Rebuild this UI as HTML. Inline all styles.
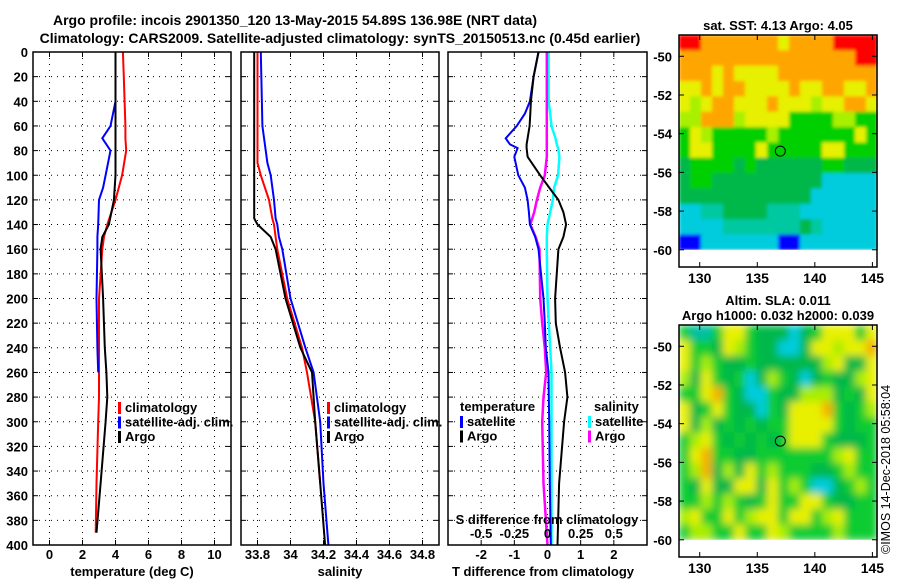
<!DOCTYPE html>
<html><head><meta charset="utf-8"><style>
body{margin:0;background:#fff}
svg{display:block;font-family:"Liberation Sans",sans-serif;font-weight:bold}
text{font-size:13px}
</style></head><body>
<svg id="c" width="900" height="580" viewBox="0 0 900 580">
<defs>
<filter id="blurA" x="0" y="0" width="1" height="1"><feGaussianBlur stdDeviation="4" edgeMode="duplicate"/></filter>
<filter id="blurB" x="0" y="0" width="1" height="1"><feGaussianBlur stdDeviation="1.5" edgeMode="duplicate"/></filter>
</defs>
<g id="g"></g>
</svg>
<script>
// ---------- data ----------
const depthT = [0,20,40,60,70,80,100,110,120,140,150,160,200,240,260,280,300,350,390];
const tempArgo = [4.0,4.0,4.0,4.0,4.0,4.0,4.0,3.95,3.9,3.6,3.2,3.1,3.25,3.35,3.45,3.5,3.4,3.1,2.85];
const tempClim = [4.45,4.5,4.55,4.6,4.6,4.65,4.4,4.2,4.0,3.5,3.3,3.2,3.0,3.0,3.0,3.0,2.95,2.85,2.8];
const tempSat = [4.0,4.0,4.0,3.7,3.2,3.7,3.4,3.25,3.0,2.95,2.9,2.9,2.85,2.9,2.95,2.95,2.95,2.9,2.85];
const depthS = [0,60,90,100,120,135,140,150,160,200,240,260,300,350,400];
const salArgo = [33.78,33.78,33.78,33.78,33.78,33.78,33.8,33.88,33.91,33.97,34.06,34.13,34.15,34.18,34.21];
const salClim = [33.8,33.8,33.8,33.82,33.87,33.89,33.9,33.91,33.92,33.98,34.07,34.1,34.15,34.18,34.2];
const salSat = [33.82,33.83,33.86,33.88,33.9,33.91,33.92,33.93,33.95,34.0,34.09,34.14,34.18,34.2,34.23];
const depthD = [0,20,40,50,60,70,75,78,85,100,110,120,130,140,150,160,200,220,240,260,280,300,350,400];
const dTsat = [-0.27,-0.42,-0.53,-0.68,-0.93,-1.26,-1.13,-0.9,-1.0,-0.88,-0.68,-0.6,-0.56,-0.53,-0.37,-0.27,-0.12,-0.08,-0.05,0.03,0.04,0.05,0.07,0.1];
const dTargo = [-0.27,-0.42,-0.5,-0.52,-0.54,-0.6,-0.63,-0.63,-0.6,-0.22,0.05,0.33,0.48,0.56,0.48,0.33,0.23,0.25,0.38,0.53,0.6,0.5,0.35,0.3];
const dSsat = [0.008,0.008,0.008,0.02,0.03,0.06,0.07,0.08,0.09,0.08,0.05,0.04,0.02,0.0,-0.005,-0.005,0.0,0.01,0.02,0.03,0.03,0.03,0.03,0.03];
const dSargo = [-0.005,-0.005,-0.005,-0.005,-0.005,-0.005,-0.005,-0.005,-0.005,-0.02,-0.055,-0.08,-0.1,-0.13,-0.09,-0.06,-0.055,-0.04,-0.02,-0.01,-0.03,-0.04,-0.03,0.0];
const depthTicks = [0,20,40,60,80,100,120,140,160,180,200,220,240,260,280,300,320,340,360,380,400];
const tTicks = [0,2,4,6,8,10];
const sTicks = [33.8,34,34.2,34.4,34.6,34.8];
const sTickLabels = ["33.8","34","34.2","34.4","34.6","34.8"];
const dTTicks = [-2,-1,0,1,2];
const dSTicks = [-0.5,-0.25,0,0.25,0.5];
const dSTickLabels = ["-0.5","-0.25","0","0.25","0.5"];
const latTicks = [-50,-52,-54,-56,-58,-60];
const lonTicks = [130,135,140,145];
const argoLon = 137.0, argoLat = -54.9;
const sstGrid = [
"rroooooooyoooorrrr","oooooooooooooooorr","oooyoyyyyooooooooo","yyoyooyyyyoyyooyyo",
"ylyooyyyoyyylyyooy","llooolyyyyggggllgg","gylggggglgggggggyg","gyyggggygggggyyggg",
"dggggdgddddddggddd","dggddddddddddccccc","ddddddddddddcccccc","ccttddddtttccccccc",
"cccctttttttdtccccc","bbcccccccbbccccccc"];
const slaGrid = [
"gttgyygdddcdgyyygy","yggdylgddccdyylyyo","yglgddgddddddlyddyo","ldygdgcdlgdcdgddly",
"ggyogdccgddllldgdy","ydgygddcgdyyyogdgl","ydldgdgdggyyyygdgg","glygdgdgdgyyygdddg",
"gyoggddggggggglygg","glodldyglgggddglgg","gdyddyydyglgccdglg","gglglgdgyggyygddgg",
"lyggyglyygyyglyggg","gllggyggylgggglggg"];
// ---------- helpers ----------
const NS="http://www.w3.org/2000/svg";
const root=document.getElementById('g');
function el(tag,attrs,parent){const e=document.createElementNS(NS,tag);for(const k in attrs)e.setAttribute(k,attrs[k]);(parent||root).appendChild(e);return e;}
function txt(x,y,s,anchor,parent,extra){const t=el('text',Object.assign({x:x,y:y,'text-anchor':anchor||'middle'},extra||{}),parent);t.textContent=s;return t;}
const PT=52, PB=545;
const yD=d=>PT+(d/400)*(PB-PT);
function panel(x0,x1,xmin,xmax,name){
  const xs=v=>x0+(v-xmin)/(xmax-xmin)*(x1-x0);
  const g=el('g',{});
  
  
  return {x0,x1,xs,g};
}
function frameGrid(p,xt){
  depthTicks.forEach(d=>{const y=yD(d);
    if(d>0&&d<400) el('line',{x1:p.x0,x2:p.x1,y1:y,y2:y,stroke:'#000','stroke-dasharray':'1,5','stroke-width':1},p.g);
    el('line',{x1:p.x0,x2:p.x0+5,y1:y,y2:y,stroke:'#000'},p.g);
    el('line',{x1:p.x1-5,x2:p.x1,y1:y,y2:y,stroke:'#000'},p.g);});
  xt.forEach(v=>{const x=p.xs(v);
    el('line',{x1:x,x2:x,y1:PT,y2:PB,stroke:'#000','stroke-dasharray':'1,5','stroke-width':1},p.g);
    el('line',{x1:x,x2:x,y1:PB-5,y2:PB,stroke:'#000'},p.g);
    el('line',{x1:x,x2:x,y1:PT,y2:PT+5,stroke:'#000'},p.g);});
}
function line(p,ds,vals,col,w,name){
  const pts=vals.map((v,i)=>p.xs(v).toFixed(1)+','+yD(ds[i]).toFixed(1)).join(' ');
  const l=el('polyline',{points:pts,fill:'none',stroke:col,'stroke-width':w},p.g);
  
  
}
function box(p){el('rect',{x:p.x0,y:PT,width:p.x1-p.x0,height:PB-PT,fill:'none',stroke:'#000','stroke-width':1.5},p.g);}
function legend(p,x,y0,items){
  items.forEach((it,i)=>{const y=y0+i*14.5;
    const b=el('rect',{x:x,y:y-10,width:3,height:12,fill:it[1]},p.g);
    
    
    const t=txt(x+7,y,it[0],'start',p.g);
    
    });
}
// ---------- titles ----------
const t1=txt(295,25,'Argo profile: incois 2901350_120 13-May-2015 54.89S 136.98E (NRT data)','middle',root,{style:'font-size:14px'});


const t2=txt(340,43,'Climatology: CARS2009. Satellite-adjusted climatology: synTS_20150513.nc (0.45d earlier)','middle',root,{style:'font-size:14px'});


// ---------- panel 1 ----------
const p1=panel(33,231,-1,11,'temperature-panel');
frameGrid(p1,tTicks);
line(p1,depthT,tempClim,'#f00',2,'temperature-climatology-line');
line(p1,depthT.slice(0,15),tempSat.slice(0,15),'#00f',2,'temperature-satellite-line');
line(p1,depthT,tempArgo,'#000',2,'temperature-argo-line');
box(p1);
depthTicks.forEach(d=>{const t=txt(28,yD(d)+5,String(d),'end',p1.g);});
tTicks.forEach(v=>{const t=txt(p1.xs(v),559,String(v),'middle',p1.g);});
const xl1=txt(132,576,'temperature (deg C)','middle',p1.g);
legend(p1,118,412,[['climatology','#f00'],['satellite-adj. clim.','#00f'],['Argo','#000']]);
// ---------- panel 2 ----------
const p2=panel(241,439,33.7,34.9,'salinity-panel');
frameGrid(p2,sTicks);
line(p2,depthS.slice(0,14),salClim.slice(0,14),'#f00',2,'salinity-climatology-line');
line(p2,depthS,salSat,'#00f',2,'salinity-satellite-line');
line(p2,depthS,salArgo,'#000',2,'salinity-argo-line');
box(p2);
sTicks.forEach((v,i)=>{const t=txt(p2.xs(v),559,sTickLabels[i],'middle',p2.g);});
const xl2=txt(340,576,'salinity','middle',p2.g);
legend(p2,327,412,[['climatology','#f00'],['satellite-adj. clim.','#00f'],['Argo','#000']]);
// ---------- panel 3 ----------
const p3=panel(448,647,-3,3,'difference-panel');
frameGrid(p3,dTTicks);
line(p3,depthD,dSsat.map(v=>v*4),'#0ff',2.5,'salinity-satellite-diff-line');
line(p3,depthD,dSargo.map(v=>v*4),'#f0f',2.5,'salinity-argo-diff-line');
line(p3,depthD,dTsat,'#00f',2,'temperature-satellite-diff-line');
line(p3,depthD,dTargo,'#000',2,'temperature-argo-diff-line');
box(p3);
dTTicks.forEach(v=>{const t=txt(p3.xs(v),559,String(v),'middle',p3.g);});
const xl3=txt(543,576,'T difference from climatology','middle',p3.g);
const sl=txt(547,524,'S difference from climatology','middle',p3.g);
dSTicks.forEach((v,i)=>{const t=txt(p3.xs(v*4),538,dSTickLabels[i],'middle',p3.g);});
const lt=txt(460,411,'temperature','start',p3.g);
legend(p3,460,426,[['satellite','#00f'],['Argo','#000']]);
const ls=txt(594,411,'salinity','start',p3.g);
legend(p3,588,426,[['satellite','#0ff'],['Argo','#f0f']]);
// ---------- maps ----------
const COL={r:'#ff0000',o:'#ffa500',y:'#e6f000',l:'#a8f000',g:'#00d000',d:'#00b84a',t:'#00c8a0',c:'#00ccdd',b:'#0000ff'};
const SLACOL={r:'#ff0000',o:'#f4b000',y:'#e8f000',l:'#a8ee00',g:'#10cc30',d:'#00b84a',t:'#00c0a0',c:'#00ccdd',b:'#0000ff'};
function map(top,grid,cols,name,title,filt){
  const L=679,R=877,B=top+232,lonMin=128.2,lonMax=145.4,latTop=-48.9;
  const xs=lon=>L+(lon-lonMin)/(lonMax-lonMin)*(R-L);
  const ys=lat=>top+(latTop-lat)*19.35;
  const g=el('g',{});
  
  
  const y60=ys(-60), nr=grid.length, nc=grid[0].length;
  const ch=(y60-top)/nr, cw=(R-L)/nc;
  const cells=el('g',{filter:'url(#'+filt+')'},g);
  grid.forEach((row,i)=>{for(let j=0;j<nc;j++){const c=cols[row[j]]||cols.g;
    el('rect',{x:(L+j*cw).toFixed(1),y:(top+i*ch).toFixed(1),width:(cw+0.6).toFixed(1),height:(ch+0.6).toFixed(1),fill:c},cells);}});
  el('rect',{x:L,y:y60,width:R-L,height:B-y60,fill:'#fff'},g);
  el('rect',{x:L,y:top,width:R-L,height:B-top,fill:'none',stroke:'#000','stroke-width':1.5},g);
  latTicks.forEach(v=>{const y=ys(v);el('line',{x1:L,x2:L+5,y1:y,y2:y,stroke:'#000'},g);el('line',{x1:R-5,x2:R,y1:y,y2:y,stroke:'#000'},g);
    const t=txt(672,y+5,String(v),'end',g);});
  lonTicks.forEach(v=>{const x=xs(v);el('line',{x1:x,x2:x,y1:top,y2:top+5,stroke:'#000'},g);el('line',{x1:x,x2:x,y1:B-5,y2:B,stroke:'#000'},g);
    const t=txt(x,B+16,String(v),'middle',g,{style:'font-size:14px'});});
  const c=el('circle',{cx:xs(argoLon),cy:ys(argoLat),r:5,fill:'none',stroke:'#000','stroke-width':1},g);
  
  
  title.forEach((s,i)=>{const t=txt(778,top-title.length*15+i*15+10,s,'middle',g);});
}
map(35,sstGrid,COL,'sst-map',['sat. SST: 4.13 Argo: 4.05'],'blurB');
map(325,slaGrid,SLACOL,'sla-map',['Altim. SLA: 0.011','Argo h1000: 0.032 h2000: 0.039'],'blurA');
const cr=txt(0,0,'©IMOS 14-Dec-2018 05:58:04','start',root,{transform:'translate(890,554) rotate(-90)',style:'font-size:12.5px;font-weight:normal'});


</script>
</body></html>
